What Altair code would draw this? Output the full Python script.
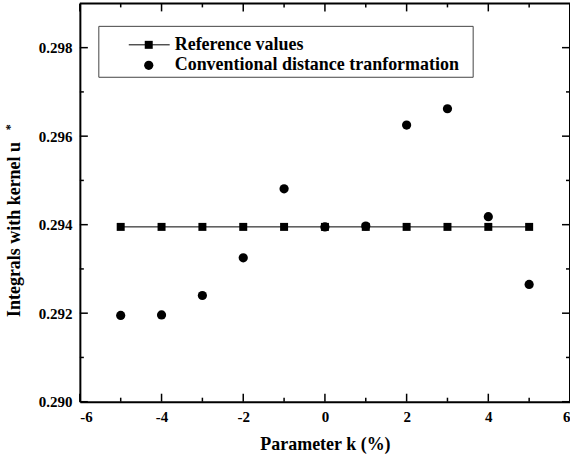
import altair as alt
import pandas as pd

# ---- data ----
k_values = [-5, -4, -3, -2, -1, 0, 1, 2, 3, 4, 5]
reference_values = [0.29395, 0.29395, 0.29395, 0.29395, 0.29395, 0.29395,
                    0.29395, 0.29395, 0.29395, 0.29395, 0.29395]
conventional_values = [0.29195, 0.29196, 0.29240, 0.29325, 0.29481, 0.29395,
                       0.29397, 0.29625, 0.29662, 0.29418, 0.29265]

x_major = [-6, -4, -2, 0, 2, 4, 6]
x_minor = [-5, -3, -1, 1, 3, 5]
y_major = [0.290, 0.292, 0.294, 0.296, 0.298]
y_minor = [0.291, 0.293, 0.295, 0.297]

W, H = 491, 399
FONT = "Liberation Serif"

df = pd.DataFrame({"k": k_values, "ref": reference_values, "conv": conventional_values})

xs = alt.Scale(domain=[-6, 6], nice=False, zero=False)
ys = alt.Scale(domain=[0.290, 0.299], nice=False, zero=False)

x_axis = alt.Axis(values=x_major, labelExpr="'' + datum.value", tickSize=0, grid=False,
                  domainWidth=2, domainColor="black",
                  labelFont=FONT, labelFontWeight="bold", labelFontSize=15, labelColor="black",
                  labelPadding=8, title="Parameter k (%)", titleFont=FONT, titleFontWeight="bold",
                  titleFontSize=18, titleColor="black", titleY=43, titleBaseline="middle")
y_axis = alt.Axis(values=y_major, format=".3f", tickSize=0, grid=False, domainWidth=2,
                  domainColor="black", labelFont=FONT, labelFontWeight="bold", labelFontSize=15,
                  labelColor="black", labelPadding=8, title="Integrals with kernel u",
                  titleFont=FONT, titleFontWeight="bold", titleFontSize=18, titleColor="black",
                  titleX=-65, titleY=226, titleBaseline="middle")

base = alt.Chart(df)

ref_line = base.mark_line(color="black", strokeWidth=1).encode(
    x=alt.X("k:Q", scale=xs, axis=x_axis), y=alt.Y("ref:Q", scale=ys, axis=y_axis))
ref_pts = base.mark_point(shape="square", filled=True, size=64, color="black", opacity=1).encode(
    x=alt.X("k:Q", scale=xs), y=alt.Y("ref:Q", scale=ys))
conv_pts = base.mark_point(shape="circle", filled=True, size=85, color="black", opacity=1).encode(
    x=alt.X("k:Q", scale=xs), y=alt.Y("conv:Q", scale=ys))

# inward ticks on all four sides
def xticks(vals, length):
    d = alt.Chart(pd.DataFrame({"v": vals}))
    bottom = d.mark_rule(color="black", strokeWidth=1.5).encode(
        x=alt.X("v:Q", scale=xs), y=alt.value(H), y2=alt.value(H - length))
    top = d.mark_rule(color="black", strokeWidth=1.5).encode(
        x=alt.X("v:Q", scale=xs), y=alt.value(0), y2=alt.value(length))
    return [bottom, top]

def yticks(vals, length):
    d = alt.Chart(pd.DataFrame({"v": vals}))
    left = d.mark_rule(color="black", strokeWidth=1.5).encode(
        y=alt.Y("v:Q", scale=ys), x=alt.value(0), x2=alt.value(length))
    right = d.mark_rule(color="black", strokeWidth=1.5).encode(
        y=alt.Y("v:Q", scale=ys), x=alt.value(W), x2=alt.value(W - length))
    return [left, right]

ticks = xticks(x_major, 8) + xticks(x_minor, 4) + yticks(y_major, 8) + yticks(y_minor, 4)

# frame top/right
one = alt.Chart(pd.DataFrame({"a": [0]}))
frame_top = one.mark_rule(color="black", strokeWidth=2).encode(
    x=alt.value(0), x2=alt.value(W), y=alt.value(0))
frame_right = one.mark_rule(color="black", strokeWidth=2).encode(
    x=alt.value(W), y=alt.value(0), y2=alt.value(H))

# asterisk superscript for y title
aster = alt.Chart(pd.DataFrame({"t": ["*"]})).mark_text(
    font=FONT, fontWeight="bold", fontSize=12, angle=270, color="black").encode(
    text="t:N", x=alt.value(-70), y=alt.value(124))

# manual legend
legend_box = one.mark_rect(fill="white", stroke="#444444", strokeWidth=1).encode(
    x=alt.value(19), x2=alt.value(394), y=alt.value(23), y2=alt.value(74))
leg_line = one.mark_rule(color="black", strokeWidth=1).encode(
    x=alt.value(49), x2=alt.value(90), y=alt.value(41.5))
leg_sq = one.mark_point(shape="square", filled=True, size=64, color="black", opacity=1).encode(
    x=alt.value(69), y=alt.value(41.5))
leg_circ = one.mark_point(shape="circle", filled=True, size=85, color="black", opacity=1).encode(
    x=alt.value(69), y=alt.value(62))
leg_t1 = alt.Chart(pd.DataFrame({"t": ["Reference values"]})).mark_text(
    font=FONT, fontWeight="bold", fontSize=18, align="left", baseline="middle", color="black").encode(
    text="t:N", x=alt.value(95), y=alt.value(41.5))
leg_t2 = alt.Chart(pd.DataFrame({"t": ["Conventional distance tranformation"]})).mark_text(
    font=FONT, fontWeight="bold", fontSize=18, align="left", baseline="middle", color="black").encode(
    text="t:N", x=alt.value(95), y=alt.value(62))

chart = alt.layer(
    ref_line, *ticks, frame_top, frame_right, ref_pts, conv_pts, aster,
    legend_box, leg_line, leg_sq, leg_circ, leg_t1, leg_t2
).properties(
    width=W, height=H,
    autosize=alt.AutoSizeParams(type="none"),
    padding={"left": 80, "top": 3, "right": 0, "bottom": 60},
    background="white",
).configure_view(stroke=None)

chart.save("out.html", embed_options={"renderer": "svg", "actions": False})
